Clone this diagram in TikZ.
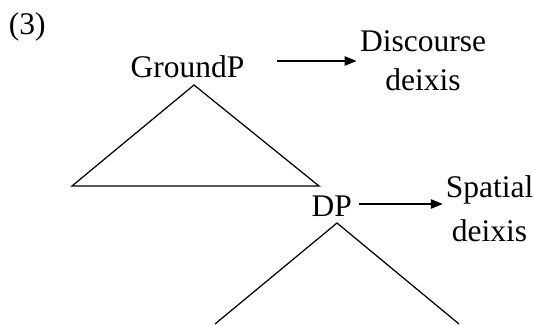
\documentclass[tikz,border=0pt]{standalone}
\usepackage{fontspec}
\setmainfont{Liberation Serif}
\usetikzlibrary{arrows.meta,calc}
\begin{document}
\begin{tikzpicture}[x=1pt,y=-1pt,
  lbl/.style={inner sep=0pt,outer sep=0pt,anchor=base,font=\fontsize{31.5}{38.3}\selectfont},
  edge/.style={line width=1.25pt,line join=miter},
  pointer/.style={line width=1.25pt,-{Triangle[length=12pt,width=9.5pt]}}]
  \useasboundingbox (0,0) rectangle (534,324);

  % example number
  \node[lbl,anchor=base west] (num) at (9,34) {(3)};

  % upper phrase and its annotation (base = last line)
  \node[lbl] (gp) at (187.5,77.7) {GroundP};
  \node[lbl,align=center] (disc) at (423,90) {Discourse\\deixis};

  % lower phrase and its annotation
  \node[lbl] (dp) at (331.7,216) {DP};
  \node[lbl,align=center,font=\fontsize{31.5}{44}\selectfont] (spat) at (489.5,241.3) {Spatial\\deixis};

  % triangle under GroundP
  \coordinate (gtop) at ($(gp.base)+(6.5,7.3)$);
  \coordinate (gleft) at ($(gtop)+(-122,101)$);
  \coordinate (gright) at ($(gtop)+(125,101)$);
  \draw[edge] (gtop) -- (gleft) -- (gright) -- cycle;

  % open triangle under DP
  \coordinate (dtop) at ($(dp.base)+(5.3,7)$);
  \coordinate (dleft) at ($(dtop)+(-122,101)$);
  \coordinate (dright) at ($(dtop)+(122,101)$);
  \draw[edge] (dleft) -- (dtop) -- (dright);

  % arrows to the annotations
  \draw[pointer] ($(gp.base east)+(33,-16.7)$) -- ($(gp.base east -| disc.west)+(-3.5,-16.7)$);
  \draw[pointer] ($(dp.base east)+(7.3,-12)$) -- ($(dp.base east -| spat.west)+(-3,-12)$);
\end{tikzpicture}
\end{document}
